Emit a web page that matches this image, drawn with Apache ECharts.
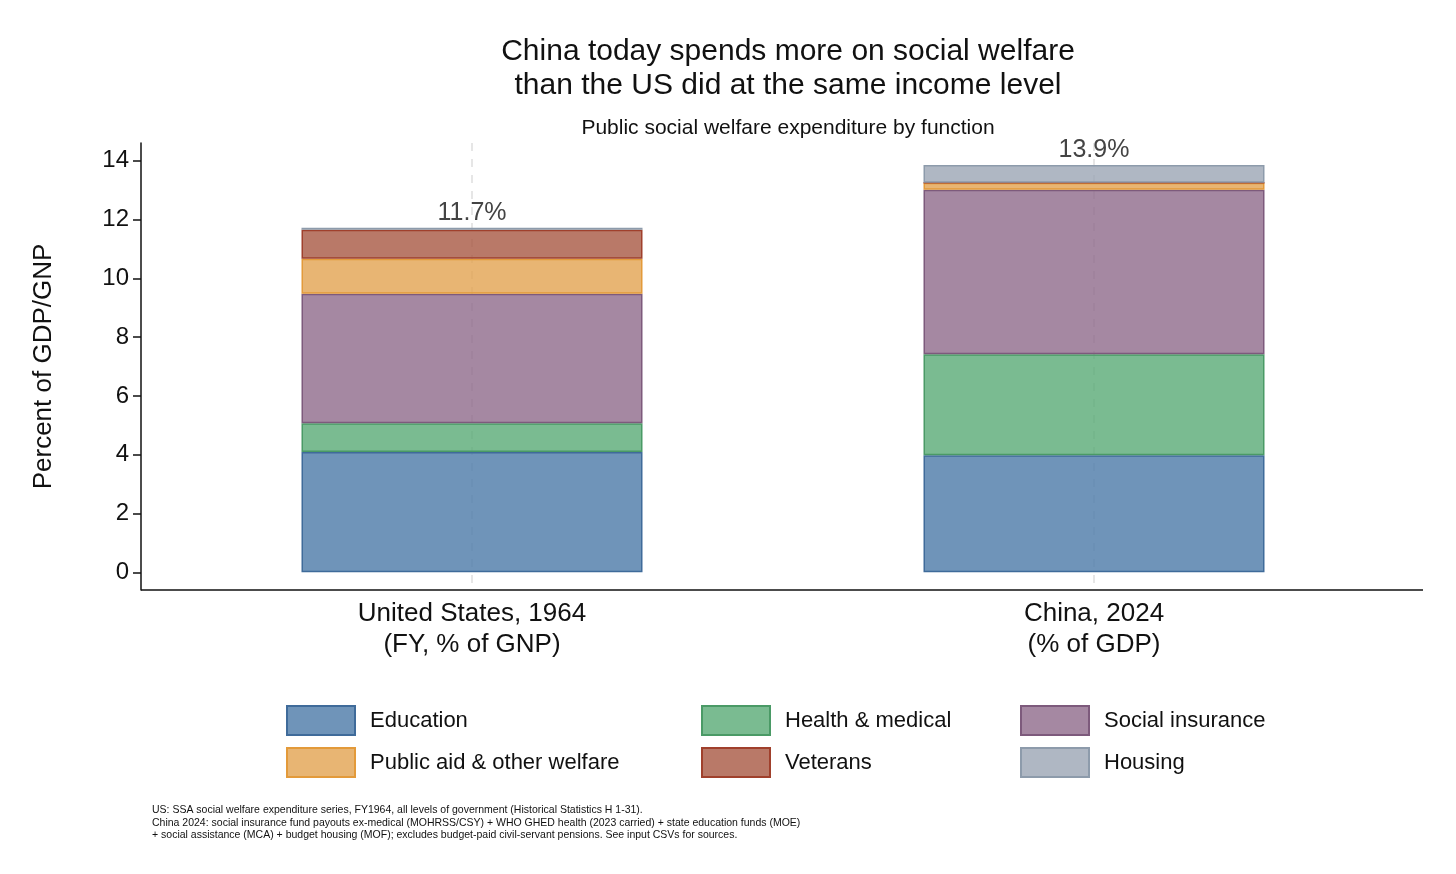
<!DOCTYPE html><html><head><meta charset="utf-8"><script src="https://cdn.jsdelivr.net/npm/echarts@6/dist/echarts.min.js"></script>
<style>html,body{margin:0;padding:0;background:#fff}#c{width:1456px;height:874px}</style></head><body><div id="c"></div><script>
const categories=['United States, 1964\n(FY, % of GNP)','China, 2024\n(% of GDP)'];
const education=[4.09,3.98];
const health=[0.98,3.44];
const socialInsurance=[4.40,5.59];
const publicAid=[1.19,0.24];
const veterans=[0.99,0.0];
const housing=[0.07,0.6];
const totals=['11.7%','13.9%'];
const yTicks=[0,2,4,6,8,10,12,14];
const names=['Education','Health & medical','Social insurance','Public aid & other welfare','Veterans','Housing'];
const vals=[education,health,socialInsurance,publicAid,veterans,housing];
const fills=['rgba(79,125,170,0.82)','rgba(89,170,118,0.8)','rgba(142,106,139,0.8)','rgba(226,163,80,0.8)','rgba(168,88,66,0.8)','rgba(155,165,180,0.8)'];
const borders=['#3f6b9a','#4a9a66','#7d5a7c','#e39a3a','#a0402c','#8d9bab'];
const F='"Liberation Sans", Arial, sans-serif';
const series=names.map((n,i)=>({name:n,type:'bar',stack:'s',barWidth:341,data:vals[i],
 itemStyle:{color:fills[i],borderColor:borders[i],borderWidth:1.5},
 label:i===5?{show:true,position:'top',distance:2,fontSize:25,color:'#444',fontFamily:F,formatter:p=>totals[p.dataIndex]}:{show:false}}));
const legPos=[[281,700],[696,700],[1015,700],[281,742],[696,742],[1015,742]];
const legend=names.map((n,i)=>({data:[n],left:legPos[i][0],top:legPos[i][1],itemWidth:68,itemHeight:29,itemGap:20,
 textStyle:{fontSize:22,color:'#111',fontFamily:F,padding:[0,0,0,10]},icon:'rect',selectedMode:false}));
const chart=echarts.init(document.getElementById('c'));
chart.setOption({
 animation:false,
 title:[{text:'China today spends more on social welfare\nthan the US did at the same income level',left:783,textAlign:'center',top:30,textStyle:{fontSize:30,fontWeight:'normal',color:'#111',fontFamily:F,lineHeight:34}},
  {text:'Public social welfare expenditure by function',left:783,textAlign:'center',top:113,textStyle:{fontSize:21,fontWeight:'normal',color:'#111',fontFamily:F}},
  {text:'US: SSA social welfare expenditure series, FY1964, all levels of government (Historical Statistics H 1-31).\nChina 2024: social insurance fund payouts ex-medical (MOHRSS/CSY) + WHO GHED health (2023 carried) + state education funds (MOE)\n+ social assistance (MCA) + budget housing (MOF); excludes budget-paid civil-servant pensions. See input CSVs for sources.',
   left:147,top:799,textStyle:{fontSize:10.5,fontWeight:'normal',color:'#111',fontFamily:F,lineHeight:12.5}}],
 legend:legend,
 grid:{left:161,right:51,top:143,bottom:284,containLabel:false},
 xAxis:{type:'category',data:categories,axisLine:{show:false},axisTick:{show:false},
  splitLine:{show:false},
  axisLabel:{fontSize:26,color:'#111',fontFamily:F,lineHeight:31,margin:8,interval:0}},
 yAxis:{type:'value',min:-0.6,max:14.6,offset:20,name:'Percent of GDP/GNP',nameLocation:'middle',nameGap:84,
  nameTextStyle:{fontSize:26,color:'#111',fontFamily:F},
  axisLine:{show:true,lineStyle:{color:'#111',width:1.5}},
  axisTick:{show:true,length:8,lineStyle:{color:'#111',width:1.5},customValues:yTicks},
  axisLabel:{fontSize:24,color:'#111',fontFamily:F,margin:12,customValues:yTicks},
  splitLine:{show:false}},
 graphic:[{type:'line',shape:{x1:141,y1:590,x2:1423,y2:590},style:{stroke:'#111',lineWidth:1.5},z:10},
  {type:'line',shape:{x1:472,y1:143,x2:472,y2:590},style:{stroke:'#e6e6e6',lineWidth:2,lineDash:[8,8]},z:-1},
  {type:'line',shape:{x1:1094,y1:143,x2:1094,y2:590},style:{stroke:'#e6e6e6',lineWidth:2,lineDash:[8,8]},z:-1}],
 series:series
});
</script></body></html>
